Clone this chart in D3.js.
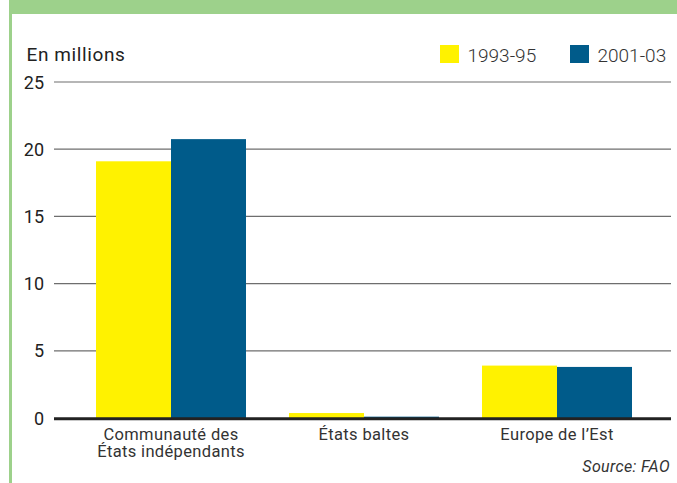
<!DOCTYPE html>
<html><head><meta charset="utf-8">
<script src="https://cdn.jsdelivr.net/npm/d3@7"></script>
<style>body{margin:0;background:#fff}svg{display:block}</style>
</head><body>
<svg id="c" width="677" height="483"></svg>
<script>
const categories = [["Communauté des","États indépendants"],["États baltes"],["Europe de l’Est"]];
const seriesNames = ["1993-95","2001-03"];
const values9395 = [19.1, 0.37, 3.9];
const values0103 = [20.75, 0.1, 3.8];
const yTicks = [0,5,10,15,20,25];
const colors = ["#fff200","#005b8a"];

const svg = d3.select("#c");
const W=677,H=483;
// frame
svg.append("rect").attr("x",9).attr("y",0).attr("width",W-9).attr("height",14).attr("fill","#9dd18b");
svg.append("rect").attr("x",9).attr("y",0).attr("width",3).attr("height",H).attr("fill","#9dd18b");

const font="Roboto, 'DejaVu Sans', sans-serif";
const keys = categories.map(c=>c.join(" "));
const x = d3.scaleBand().domain(keys).range([74.5,653.5]).paddingInner(0.2228).paddingOuter(0.1114);
const x1 = d3.scaleBand().domain(seriesNames).range([0,x.bandwidth()]);
const y = d3.scaleLinear().domain([0,25]).range([418,82]);
const gx0=54, gx1=671;

// gridlines
svg.append("g").selectAll("line").data(yTicks.filter(t=>t>0)).join("line")
  .attr("x1",gx0).attr("x2",gx1).attr("y1",d=>y(d)).attr("y2",d=>y(d))
  .attr("stroke","#6e6e6e").attr("stroke-width",1.2);
// tick labels
svg.append("g").selectAll("text").data(yTicks).join("text")
  .attr("x",44).attr("y",d=>y(d)+6.5).attr("text-anchor","end")
  .attr("font-family",font).attr("font-size",18).attr("fill","#222").text(d=>d);

// bars
const data = keys.map((k,i)=>({k, vals:[values9395[i], values0103[i]]}));
const g = svg.append("g").selectAll("g").data(data).join("g").attr("transform",d=>`translate(${x(d.k)},0)`);
g.selectAll("rect").data(d=>d.vals.map((v,j)=>({v,s:seriesNames[j],j}))).join("rect")
  .attr("x",d=>x1(d.s)).attr("width",x1.bandwidth())
  .attr("y",d=>y(d.v)).attr("height",d=>y(0)-y(d.v)).attr("fill",d=>colors[d.j]);

// baseline
svg.append("line").attr("x1",gx0).attr("x2",gx1).attr("y1",y(0)+0.7).attr("y2",y(0)+0.7)
  .attr("stroke","#222").attr("stroke-width",3);

// category labels
const cl = svg.append("g").selectAll("text").data(categories).join("text")
  .attr("x",(d,i)=>x(keys[i])+x.bandwidth()/2).attr("y",440)
  .attr("text-anchor","middle").attr("font-family",font).attr("font-size",16.5)
  .attr("letter-spacing",0.35).attr("fill","#333");
cl.selectAll("tspan").data(d=>d).join("tspan")
  .attr("x",function(){return this.parentNode.getAttribute("x");})
  .attr("dy",(d,i)=>i?17:0).text(d=>d);

// axis title
svg.append("text").attr("x",26.5).attr("y",61).attr("font-family",font).attr("font-size",19)
  .attr("letter-spacing",0.6).attr("fill","#222").text("En millions");

// legend
const legX=[440,570];
seriesNames.forEach((s,i)=>{
  svg.append("rect").attr("x",legX[i]).attr("y",45).attr("width",19).attr("height",18).attr("fill",colors[i]);
  svg.append("text").attr("x",legX[i]+27.5).attr("y",61.5).attr("font-family",font).attr("font-weight",300)
    .attr("font-size",19).attr("fill","#333").text(s);
});

// source
svg.append("text").attr("x",670).attr("y",471.5).attr("text-anchor","end").attr("font-family",font)
  .attr("font-style","italic").attr("font-size",16).attr("letter-spacing",0.35).attr("fill","#333").text("Source: FAO");
</script>
</body></html>
